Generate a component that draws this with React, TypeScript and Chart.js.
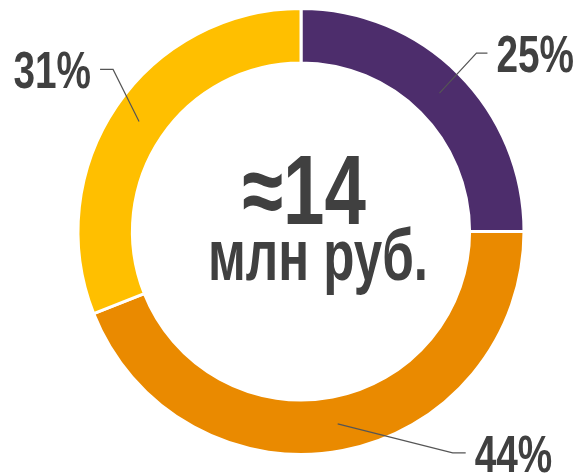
import React, { useEffect, useRef } from "react";
import { Chart, registerables } from "chart.js";

Chart.register(...registerables);

const categories = ["A", "B", "C"];
const values = [25, 44, 31];
const labels = ["25%", "44%", "31%"];
const colors = ["#4D2D6C", "#EA8A00", "#FFBF00"];
const centerLine1 = "≈14";
const centerLine2 = "млн руб.";

const TEXT = "#404040";
const FONT = "'Liberation Sans', Arial, sans-serif";

// per-label leader elbow/text layout relative to the arc centroid
const leaderLayout = [
  { elbow: [37, -40], end: [48, -40], align: "left" },
  { elbow: [115, 29], end: [128, 29], align: "left" },
  { elbow: [-26, -52], end: [-39, -52], align: "right" },
];

function drawSqueezed(ctx: CanvasRenderingContext2D, text: string, x: number, y: number, size: number, align: CanvasTextAlign, squeeze: number) {
  ctx.save();
  ctx.translate(x, y);
  ctx.scale(squeeze, 1);
  ctx.font = `bold ${size}px ${FONT}`;
  ctx.textAlign = align;
  ctx.textBaseline = "alphabetic";
  ctx.fillStyle = TEXT;
  ctx.fillText(text, 0, 0);
  ctx.restore();
}

const labelPlugin = {
  id: "labelPlugin",
  afterDraw(chart: any) {
    const ctx = chart.ctx as CanvasRenderingContext2D;
    const meta = chart.getDatasetMeta(0);
    meta.data.forEach((arc: any, i: number) => {
      const p = arc.tooltipPosition();
      const L = leaderLayout[i];
      ctx.save();
      ctx.strokeStyle = "#555555";
      ctx.lineWidth = 1.2;
      ctx.beginPath();
      ctx.moveTo(p.x, p.y);
      ctx.lineTo(p.x + L.elbow[0], p.y + L.elbow[1]);
      ctx.lineTo(p.x + L.end[0], p.y + L.end[1]);
      ctx.stroke();
      ctx.restore();
      const ex = p.x + L.end[0];
      const ey = p.y + L.end[1];
      drawSqueezed(ctx, labels[i], ex + (L.align === "left" ? 9 : -9), ey + 19, 51, L.align as CanvasTextAlign, 0.76);
    });
    const a0 = meta.data[0];
    const cx = a0.x;
    const cy = a0.y;
    drawSqueezed(ctx, centerLine1, cx + 3, cy - 8, 98, "center", 0.76);
    drawSqueezed(ctx, centerLine2, cx + 17, cy + 48, 73, "center", 0.70);
  },
};

export default function App() {
  const ref = useRef<HTMLCanvasElement>(null);
  useEffect(() => {
    if (!ref.current) return;
    const chart = new Chart(ref.current, {
      type: "doughnut",
      data: {
        labels: categories,
        datasets: [
          {
            data: values,
            backgroundColor: colors,
            borderColor: "#ffffff",
            borderWidth: 3,
            hoverOffset: 0,
          },
        ],
      },
      options: {
        responsive: false,
        animation: false,
        radius: 223,
        cutout: "75.6%",
        layout: { padding: { left: 22, right: 0, top: 0, bottom: 10 } },
        plugins: {
          legend: { display: false },
          tooltip: { enabled: false },
        },
      },
      plugins: [labelPlugin],
    });
    return () => chart.destroy();
  }, []);
  return (
    <div style={{ position: "absolute", left: 0, top: 0, width: 580, height: 473, background: "#fff" }}>
      <canvas ref={ref} width={580} height={473} style={{ width: 580, height: 473 }} />
    </div>
  );
}
